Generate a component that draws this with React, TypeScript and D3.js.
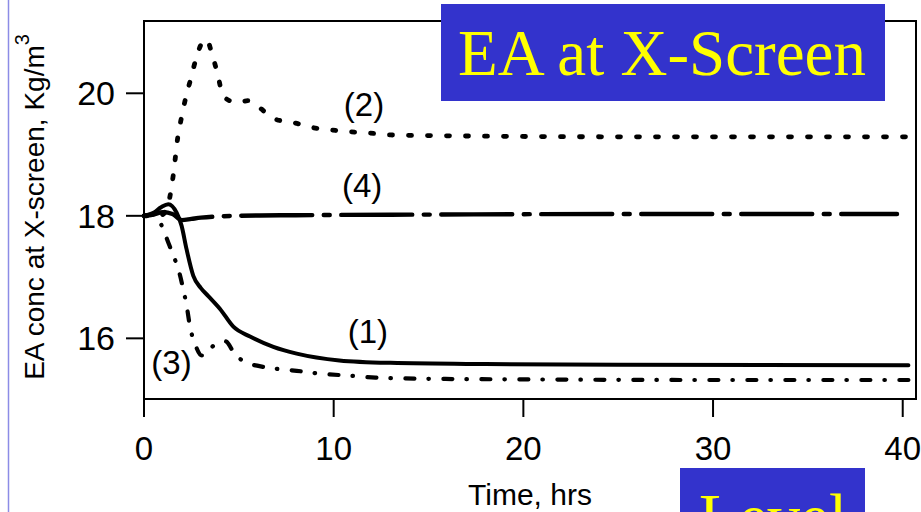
import React from "react";
import * as d3 from "d3";

const xTicks = [0, 10, 20, 30, 40];
const yTicks = [16, 18, 20];

// Series (1) solid
const t1 = [0, 0.5, 0.9, 1.28, 1.72, 1.98, 2.24, 2.6, 3.0, 3.39, 4.01, 4.71, 5.59, 6.82, 8.05, 10.3, 13, 18, 25, 40.3];
const v1 = [18.0, 18.05, 18.14, 18.19, 18.05, 17.84, 17.46, 17.02, 16.82, 16.69, 16.48, 16.19, 16.03, 15.86, 15.75, 15.64, 15.6, 15.58, 15.57, 15.56];

// Series (2) dotted
const t2 = [0, 0.8, 1.2, 1.37, 1.55, 1.78, 1.98, 2.21, 2.46, 2.74, 3.05, 3.3, 3.56, 3.88, 4.14, 4.5, 4.88, 5.5, 5.94, 6.9, 7.9, 8.9, 9.9, 10.9, 11.9, 13, 15, 18, 25, 40.3];
const v2 = [18.0, 18.0, 18.1, 18.32, 18.68, 19.28, 19.61, 19.94, 20.23, 20.56, 20.82, 20.88, 20.67, 20.31, 19.99, 19.88, 19.85, 19.88, 19.8, 19.58, 19.52, 19.44, 19.4, 19.37, 19.35, 19.32, 19.31, 19.3, 19.29, 19.29];

// Series (3) dash-dot (short)
const t3 = [0, 0.5, 0.8, 1.02, 1.3, 1.55, 1.81, 2.07, 2.25, 2.42, 2.7, 3.05, 3.4, 3.74, 4.3, 4.79, 5.42, 6.03, 6.82, 8.05, 9.4, 10.9, 12.2, 15, 20, 30, 40.4];
const v3 = [18.0, 18.02, 17.93, 17.77, 17.55, 17.35, 17.13, 16.8, 16.53, 16.2, 15.9, 15.72, 15.8, 15.9, 15.95, 15.74, 15.6, 15.55, 15.51, 15.47, 15.42, 15.39, 15.36, 15.34, 15.33, 15.32, 15.32];

// Series (4) long dash-dot
const t4 = [0, 0.5, 1.0, 1.5, 2.0, 2.5, 3.0, 5, 8, 15, 25, 39.7];
const v4 = [18.0, 18.02, 18.06, 18.03, 17.93, 17.95, 17.97, 18.0, 18.01, 18.02, 18.03, 18.03];

const seriesLabels = ["(1)", "(2)", "(3)", "(4)"];
const labelT = [11.8, 11.6, 1.45, 11.5];
const labelV = [15.92, 19.63, 15.41, 18.3];

const W = 921;
const H = 512;

export default function App() {
  const x = d3.scaleLinear().domain([0, 40.7]).range([144, 916]);
  const y = d3.scaleLinear().domain([15.01, 21.18]).range([399, 21]);
  const line = (ts: number[], vs: number[]) =>
    d3
      .line<number>()
      .x((_, i) => x(ts[i]))
      .y((d) => y(d))
      .curve(d3.curveMonotoneX)(vs) as string;

  const font = "'Liberation Sans', Arial, sans-serif";
  const serif = "'Liberation Serif', 'Times New Roman', serif";
  const series = [
    { t: t1, v: v1, dash: "none", w: 4 },
    { t: t2, v: v2, dash: "3 16", w: 4.8 },
    { t: t3, v: v3, dash: "9 14 0.5 14.5", w: 4.2 },
    { t: t4, v: v4, dash: "71 11.5 6 11.5", w: 4.4 },
  ];

  return (
    <svg
      width={W}
      height={H}
      style={{ position: "absolute", left: 0, top: 0, background: "#fff" }}
    >
      <rect x={0} y={0} width={W} height={H} fill="#fff" />
      <line x1={8.5} y1={0} x2={8.5} y2={H} stroke="#8c8ce6" strokeWidth={1.5} />

      {/* frame */}
      <rect x={144} y={21} width={772} height={378} fill="none" stroke="#000" strokeWidth={2} />

      {/* y ticks */}
      {yTicks.map((v) => (
        <g key={"y" + v}>
          <line x1={126} x2={144} y1={y(v)} y2={y(v)} stroke="#000" strokeWidth={2} />
          <text x={115} y={y(v) + 12} textAnchor="end" fontFamily={font} fontSize={34}>
            {v}
          </text>
        </g>
      ))}
      {/* x ticks */}
      {xTicks.map((v) => (
        <g key={"x" + v}>
          <line x1={x(v)} x2={x(v)} y1={399} y2={417} stroke="#000" strokeWidth={2} />
          <text x={x(v)} y={460} textAnchor="middle" fontFamily={font} fontSize={33}>
            {v}
          </text>
        </g>
      ))}

      <text x={530} y={505} textAnchor="middle" fontFamily={font} fontSize={30}>
        Time, hrs
      </text>
      <text
        transform="translate(44,207) rotate(-90)"
        textAnchor="middle"
        fontFamily={font}
        fontSize={28}
      >
        EA conc at X-screen, Kg/m
        <tspan dy={-15} fontSize={20}>3</tspan>
      </text>

      {/* curves */}
      {series.map((s, i) => (
        <path
          key={"s" + i}
          d={line(s.t, s.v)}
          fill="none"
          stroke="#000"
          strokeWidth={s.w}
          strokeDasharray={s.dash}
          strokeLinecap="round"
          strokeLinejoin="round"
        />
      ))}

      {seriesLabels.map((l, i) => (
        <text
          key={l}
          x={x(labelT[i])}
          y={y(labelV[i])}
          textAnchor="middle"
          fontFamily={font}
          fontSize={33}
        >
          {l}
        </text>
      ))}

      {/* title boxes */}
      <rect x={441} y={4} width={444} height={97} fill="#3333cc" />
      <text x={662} y={75} textAnchor="middle" fontFamily={serif} fontSize={65} fill="#ffff00">
        EA at X-Screen
      </text>
      <rect x={680} y={468} width={185} height={50} fill="#3333cc" />
      <text x={699} y={539} fontFamily={serif} fontSize={65} fill="#ffff00">
        Level
      </text>
    </svg>
  );
}
